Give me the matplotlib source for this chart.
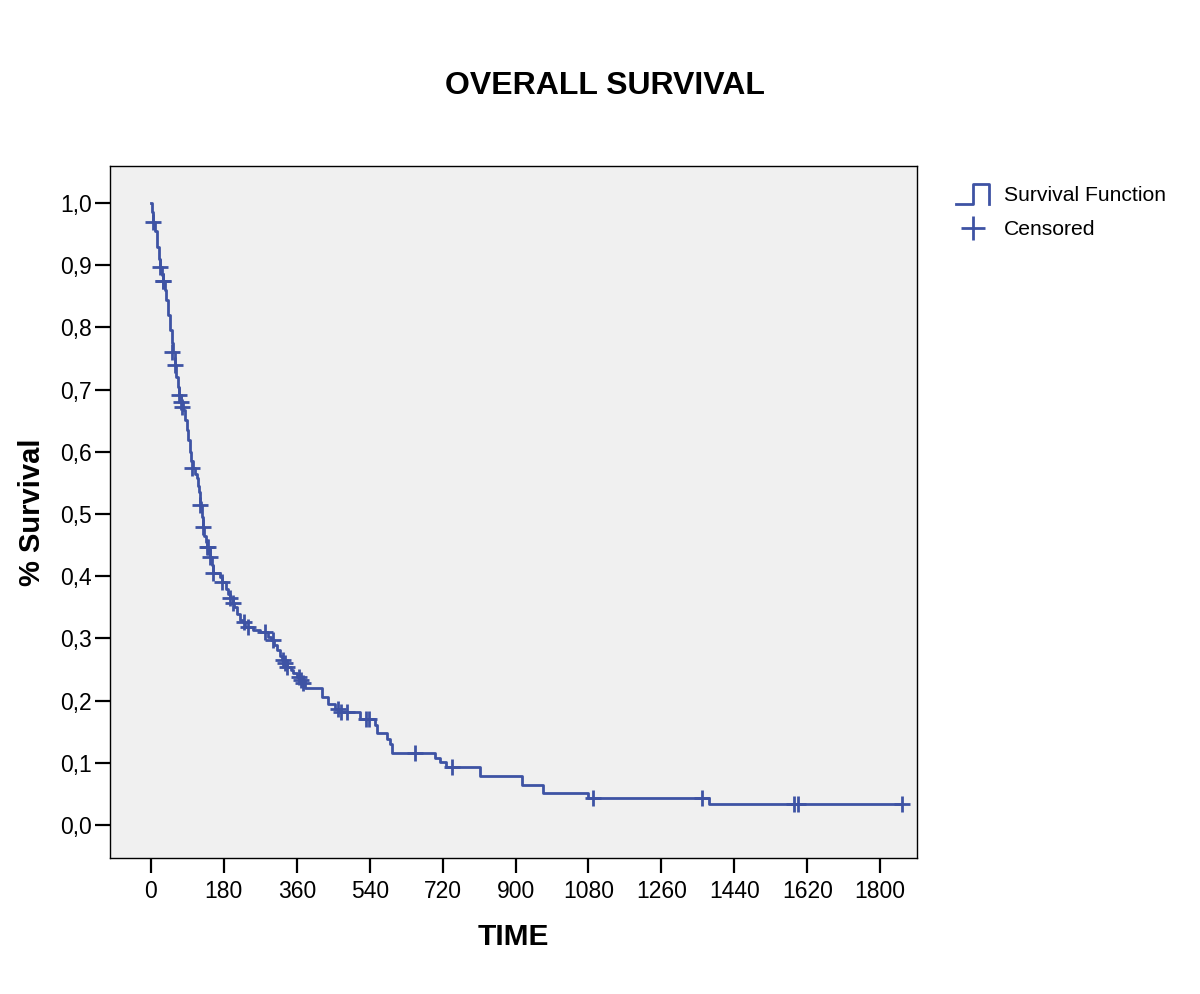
import numpy as np
import matplotlib
matplotlib.use("Agg")
import matplotlib.pyplot as plt
from matplotlib.lines import Line2D
from matplotlib.legend_handler import HandlerBase

plt.rcParams['font.family'] = ['Liberation Sans', 'DejaVu Sans']

# Kaplan-Meier step function: event times (days) and survival after each event
event_times = [0, 3, 5, 10, 15, 20, 22, 27, 30, 34, 37, 42, 47, 51, 54, 59, 63, 66, 69,
               74, 78, 84, 89, 91, 96, 99, 104, 108, 114, 117, 119, 121, 123, 126, 128,
               132, 135, 138, 146, 150, 153, 170, 175, 185, 190, 195, 202, 205, 212, 220,
               228, 232, 252, 270, 289, 297, 305, 311, 318, 323, 330, 336, 345, 351, 360,
               370, 380, 422, 437, 455, 466, 516, 553, 558, 583, 590, 595, 701, 714, 728,
               812, 916, 968, 1079, 1378, 1854]
survival = [1.0, 0.985, 0.969, 0.955, 0.93, 0.91, 0.897, 0.885, 0.875, 0.86, 0.844, 0.82,
            0.796, 0.775, 0.760, 0.740, 0.72, 0.705, 0.691, 0.68, 0.668, 0.651, 0.635,
            0.619, 0.600, 0.585, 0.574, 0.565, 0.558, 0.545, 0.535, 0.52, 0.513, 0.495,
            0.479, 0.465, 0.455, 0.447, 0.431, 0.418, 0.405, 0.398, 0.391, 0.38, 0.372,
            0.365, 0.357, 0.350, 0.34, 0.330, 0.326, 0.318, 0.313, 0.310, 0.302, 0.297,
            0.29, 0.281, 0.272, 0.265, 0.26, 0.254, 0.249, 0.244, 0.238, 0.233, 0.220,
            0.206, 0.195, 0.186, 0.181, 0.170, 0.161, 0.148, 0.138, 0.131, 0.116, 0.108,
            0.101, 0.093, 0.079, 0.065, 0.052, 0.044, 0.034, 0.034]

# Censored observations
censor_times = [5, 22, 29, 31, 53, 59, 69, 74, 77, 101, 121, 128, 139, 142, 146, 153, 175,
                195, 202, 230, 240, 281, 301, 326, 331, 336, 366, 371, 376, 462, 469, 484,
                530, 538, 652, 743, 1091, 1360, 1588, 1597, 1854]
censor_surv = [0.969, 0.897, 0.875, 0.875, 0.760, 0.740, 0.691, 0.68, 0.672, 0.574, 0.514,
               0.479, 0.447, 0.447, 0.431, 0.405, 0.391, 0.365, 0.357, 0.326, 0.318, 0.310,
               0.297, 0.265, 0.26, 0.254, 0.238, 0.233, 0.228, 0.186, 0.181, 0.181, 0.170,
               0.170, 0.116, 0.093, 0.044, 0.044, 0.034, 0.034, 0.034]

x_ticks = [0, 180, 360, 540, 720, 900, 1080, 1260, 1440, 1620, 1800]
y_ticks = [0.0, 0.1, 0.2, 0.3, 0.4, 0.5, 0.6, 0.7, 0.8, 0.9, 1.0]
y_tick_labels = ["0,0", "0,1", "0,2", "0,3", "0,4", "0,5", "0,6", "0,7", "0,8", "0,9", "1,0"]

COLOR = "#3e53a4"

fig = plt.figure(figsize=(12, 9.94), dpi=100)
ax = fig.add_axes([110/1200, 1 - 858/994, (917-110)/1200, (858-166)/994])
ax.set_facecolor("#f0f0f0")

ax.step(event_times, survival, where='post', color=COLOR, lw=2.0)
ax.plot(censor_times, censor_surv, linestyle='none', marker='+', color=COLOR,
        markersize=11, markeredgewidth=2.0)

ax.set_xlim(-101, 1891)
ax.set_ylim(-0.053, 1.0595)
ax.set_xticks(x_ticks)
ax.set_xticklabels([str(t) for t in x_ticks])
ax.set_yticks(y_ticks)
ax.set_yticklabels(y_tick_labels)
ax.tick_params(axis='both', direction='out', length=11, width=1.6, labelsize=16.5, color='black')
ax.tick_params(axis='x', pad=5)
ax.tick_params(axis='y', pad=2)
for s in ax.spines.values():
    s.set_linewidth(1.0)
    s.set_color('black')

ax.set_xlabel("TIME", fontsize=21.5, fontweight='bold', labelpad=14)
ax.set_ylabel("% Survival", fontsize=21, fontweight='bold', labelpad=10)

fig.text(0.504, 1 - 86/994, "OVERALL SURVIVAL", fontsize=23, fontweight='bold',
         ha='center', va='center')


class StepHandler(HandlerBase):
    def create_artists(self, legend, orig_handle, xdescent, ydescent, width, height,
                       fontsize, trans):
        x0, x1 = -xdescent, -xdescent + width
        y0, y1 = -ydescent - 0.2 * height, -ydescent + 1.1 * height
        xm = x0 + 0.5 * width
        xs = [x0, xm, xm, x1, x1]
        ys = [y0, y0, y1, y1, y0]
        ln = Line2D(xs, ys, color=COLOR, lw=2.0, transform=trans)
        return [ln]


step_handle = Line2D([], [], color=COLOR, lw=2.0)
cens_handle = Line2D([], [], color=COLOR, linestyle='none', marker='+',
                     markersize=17, markeredgewidth=2.0)
leg = ax.legend([step_handle, cens_handle], ["Survival Function", "Censored"],
                handler_map={step_handle: StepHandler()},
                loc='upper left', bbox_to_anchor=(1.0225, 1.002), frameon=False,
                fontsize=15.2, handlelength=1.55, handletextpad=0.7, labelspacing=0.72,
                borderaxespad=0.6)

fig.savefig("out.png", dpi=100, facecolor='white')
